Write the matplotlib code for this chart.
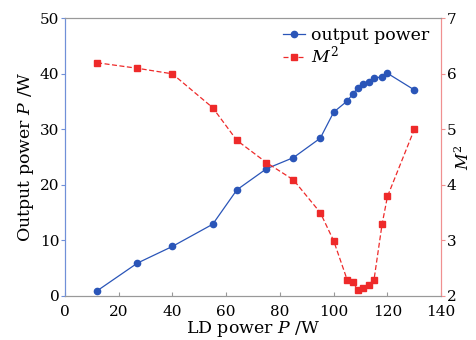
import matplotlib
matplotlib.use("Agg")
import matplotlib.pyplot as plt

plt.rcParams['font.family'] = ['DejaVu Serif']
plt.rcParams['mathtext.fontset'] = 'dejavuserif'

# LD pump power (W)
ld_power = [12, 27, 40, 55, 64, 75, 85, 95, 100, 105, 107, 109, 111, 113, 115, 118, 120, 130]
# output power (W)
out_power = [0.9, 5.9, 8.9, 12.9, 19.1, 22.9, 24.9, 28.4, 33.1, 35.1, 36.3, 37.5, 38.1, 38.5, 39.2, 39.5, 40.1, 37.1]
# beam quality factor M^2
m2 = [6.2, 6.1, 6.0, 5.39, 4.80, 4.40, 4.09, 3.50, 2.99, 2.29, 2.25, 2.11, 2.14, 2.20, 2.29, 3.29, 3.79, 5.0]

BLUE = '#2a55b8'
RED = '#ee2a2a'

fig = plt.figure(figsize=(4.77, 3.4), dpi=100)
ax = fig.add_axes([0.136, 0.130, 0.789, 0.816])
ax2 = ax.twinx()

l1, = ax.plot(ld_power, out_power, '-o', color=BLUE, lw=0.9, ms=4.5, label='output power')
l2, = ax2.plot(ld_power, m2, '--s', color=RED, lw=0.9, ms=4.5, dashes=(4, 2), label='$M^2$')

ax.set_xlim(0, 140)
ax.set_ylim(0, 50)
ax2.set_ylim(2, 7)
ax.set_xticks(range(0, 141, 20))
ax.set_yticks(range(0, 51, 10))
ax2.set_yticks(range(2, 8))

ax.set_xlabel('LD power $P$ /W', fontsize=12.5, labelpad=0)
ax.set_ylabel('Output power $P$ /W', fontsize=12.5, labelpad=3)
ax2.set_ylabel('$M^2$', fontsize=11.5)
ax2.yaxis.set_label_coords(1.036, 0.5)

for a in (ax, ax2):
    a.spines['top'].set_color('#999999')
    a.spines['bottom'].set_color('#999999')
    a.spines['left'].set_color('#7090d8')
    a.spines['right'].set_color('#f09090')

ax.tick_params(axis='x', direction='in', length=3, color='#999999', labelsize=11, pad=6.5)
ax.tick_params(axis='y', direction='out', length=3, color='#7090d8', labelsize=11, pad=1)
ax2.tick_params(axis='y', direction='out', length=3, color='#f09090', labelsize=11, pad=1)

ax2.legend([l1, l2], ['output power', '$M^2$'], loc='upper right', frameon=False,
           fontsize=12.5, handlelength=1.3, handletextpad=0.3, borderaxespad=0.1,
           labelspacing=0.05, bbox_to_anchor=(0.99, 1.0))

fig.savefig('out.png', dpi=100)
